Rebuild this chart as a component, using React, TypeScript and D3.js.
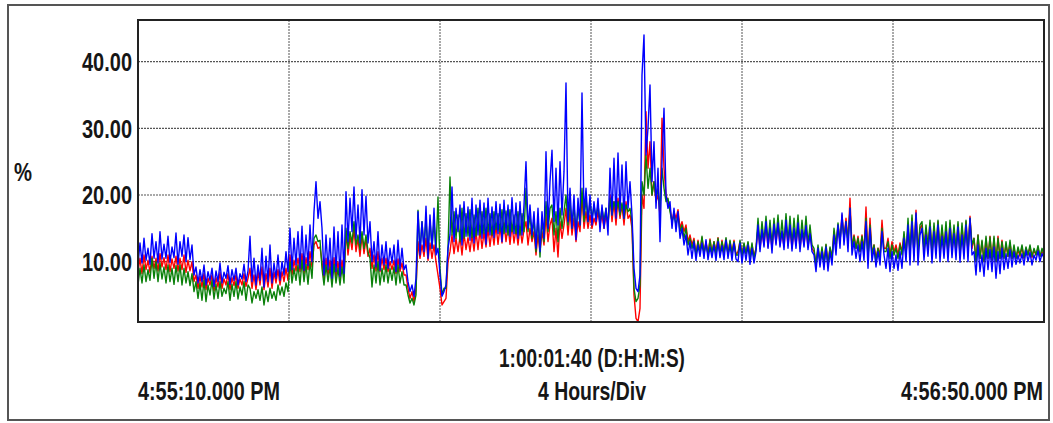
import React, { useLayoutEffect, useRef, useState } from "react";
import * as d3 from "d3";

// y axis ticks and texts
const yTicks = [10, 20, 30, 40];
const yTickLabels = ["10.00", "20.00", "30.00", "40.00"];
const hourDivs = [0, 4, 8, 12, 16, 20, 24];
const startLabel = "4:55:10.000 PM";
const endLabel = "4:56:50.000 PM";
const spanLabel = "1:00:01:40 (D:H:M:S)";
const divLabel = "4 Hours/Div";

const blueTrace = [
  9.5, 12.8, 9.8, 13.5, 10.2, 12.0, 9.6, 14.2, 10.5, 13.0, 9.8, 14.5, 10.4, 12.6, 10.5, 13.8, 9.9, 12.2, 10.6, 14.3, 9.6, 13.0, 10.8, 14.0, 10.0, 13.6, 10.3, 12.5,
  8.0, 9.2, 6.8, 8.8, 7.0, 9.5, 6.5, 8.5, 7.2, 9.0, 6.3, 8.6, 7.0, 9.8, 6.8, 8.4, 7.5, 9.4, 6.6, 8.8, 7.2, 9.0, 6.5, 8.2, 7.4, 9.6, 7.0, 8.6,
  13.8, 7.0, 10.5, 6.5, 9.5, 7.2, 12.0, 6.2, 10.8, 7.0, 12.5, 6.8, 9.8, 7.5, 11.0, 7.2, 10.0, 8.0, 11.5, 8.5,
  15.0, 8.8, 13.5, 9.5, 14.5, 9.0, 15.3, 8.7, 14.0, 9.4, 15.5, 10.0,
  17.5, 22.0, 16.5, 19.0,
  15.0, 8.0, 14.0, 8.8, 13.5, 7.5, 15.2, 8.5, 14.5, 7.8, 15.5, 8.2,
  20.5, 13.0, 19.5, 14.5, 21.2, 13.5, 18.5, 12.8, 20.8, 14.0, 19.8, 12.8,
  16.0, 10.0, 13.0, 9.2, 14.5, 8.7, 12.5, 9.5,
  13.0, 9.0, 12.0, 9.8, 12.5, 8.5, 13.2, 9.0, 12.0, 8.8,
  9.5, 7.0, 5.5, 6.5, 4.8, 7.5,
  17.5, 11.0, 16.0, 11.5, 18.3, 10.5, 17.0, 12.0, 18.0, 11.0,
  12.0, 8.0, 4.8, 5.5,
  6.5, 12.0, 14.0, 21.2, 13.0, 18.0, 14.5, 18.5, 12.5, 19.0, 13.8, 18.2, 13.2, 19.5, 12.8, 18.5, 14.0, 19.2, 13.5, 18.8,
  12.6, 19.5, 14.0, 18.2, 13.6, 19.0, 14.2, 18.6, 13.0, 19.2, 14.4, 18.5, 13.8, 19.6, 14.2, 18.8, 13.5, 19.0, 14.0, 18.5,
  25.0, 15.0,
  18.5, 14.0, 17.5, 12.0, 18.0, 11.5, 17.5, 13.5,
  26.5, 15.0, 22.0, 26.7, 16.0, 24.0, 15.5, 25.0, 17.0, 23.5,
  36.8, 16.0,
  21.0, 15.0, 20.0, 13.3, 19.5, 15.5,
  35.3, 17.0,
  21.0, 16.0, 20.0, 15.5, 19.0, 16.0,
  19.5, 14.5, 18.5, 15.0, 18.0, 14.0,
  24.0, 17.0, 25.5, 16.5, 26.3, 17.5, 24.5, 16.5, 25.0, 18.0,
  22.0, 17.0, 9.0, 6.0, 5.5, 8.0,
  38.0, 44.0, 26.0, 30.0, 36.5, 22.0, 28.0, 18.0, 24.0, 13.0, 25.0, 33.0, 20.0, 18.0,
  19.0, 15.0, 18.0, 14.5, 17.5, 13.5, 15.0, 12.5, 14.0, 11.0, 13.0, 10.5,
  13.0, 10.2, 12.5, 10.8, 12.8, 10.5, 13.3, 10.3, 12.2, 10.6, 12.5, 10.2, 13.0, 10.6, 12.4, 10.3, 13.2, 10.5, 12.6, 10.2, 12.8, 10.4,
  10.0, 12.8, 9.8, 12.2, 10.2, 12.5, 9.6, 12.0, 9.8, 11.5,
  15.5, 11.5, 14.8, 12.2, 16.0, 12.0, 15.0, 11.3, 15.6, 12.5, 15.8, 12.2, 14.6, 11.8, 16.2, 12.0, 15.5, 11.6, 15.0, 12.0, 15.8, 11.5, 14.8, 12.2, 15.4, 11.8, 14.2, 11.5,
  11.0, 8.5, 12.0, 9.2, 11.5, 8.8, 12.2, 8.6, 11.5, 9.5,
  14.0, 11.0, 15.5, 12.0, 17.3, 12.5, 16.0, 11.5,
  18.0, 11.0, 13.0, 10.5, 12.5, 10.0, 13.0, 10.2,
  16.0, 9.0, 15.0, 10.0,
  12.0, 9.2, 11.5, 9.5, 14.5, 11.0,
  9.0, 12.0, 8.5, 11.5, 9.0, 11.0, 8.7, 11.5,
  9.0, 13.5, 10.0, 15.5, 9.5, 16.0, 10.0, 17.3, 9.5, 14.0,
  15.0, 10.2, 14.0, 10.8, 15.2, 9.8, 14.5, 10.5, 15.5, 10.0, 13.8, 10.5, 14.5, 10.0, 15.0, 10.6, 14.2, 10.3, 15.2, 9.9, 14.0, 10.4, 15.5, 10.0, 16.5, 11.0,
  11.5, 8.0, 12.5, 8.5, 11.0, 7.8, 12.0, 8.8, 11.8, 8.5, 12.2, 7.5, 11.5, 8.2, 12.0, 8.8, 11.2, 9.0, 11.8, 9.2,
  11.5, 9.6, 11.0, 9.8, 11.2, 9.5, 11.7, 10.0, 11.4, 9.5, 11.0, 10.2, 11.6, 10.0, 11.2, 10.5,
];

const redTrace = [
  8.5, 10.5, 8.2, 11.0, 8.8, 10.2, 8.4, 10.8, 9.0, 10.5, 8.6, 11.2, 9.2, 10.6, 8.8, 11.0, 8.5, 10.4, 9.0, 10.8, 8.6, 10.5, 8.8, 11.0, 8.4, 10.2, 8.6, 10.0,
  7.0, 8.0, 6.0, 7.8, 6.2, 8.2, 5.8, 7.5, 6.5, 8.0, 5.6, 7.6, 6.2, 8.4, 6.0, 7.4, 6.5, 8.2, 5.8, 7.6, 6.4, 8.0, 6.0, 7.4, 6.5, 8.2, 6.3, 7.5,
  9.0, 6.0, 8.0, 5.8, 8.5, 6.5, 9.2, 5.8, 8.2, 6.2, 9.0, 6.0, 8.4, 6.8, 8.8, 6.5, 8.5, 7.0, 9.0, 7.2,
  11.0, 8.0, 10.2, 8.6, 10.5, 8.5, 11.2, 8.2, 10.6, 8.8, 11.5, 9.2,
  12.5, 13.0, 12.0, 12.2,
  10.0, 7.5, 10.5, 8.0, 10.2, 7.2, 10.6, 7.8, 10.0, 7.5, 10.2, 7.8,
  14.5, 11.0, 13.8, 11.8, 15.0, 11.5, 13.5, 10.8, 14.0, 11.2, 13.5, 10.8,
  12.0, 9.0, 11.0, 8.6, 11.5, 8.5, 10.5, 8.8,
  10.5, 8.5, 10.0, 8.8, 10.2, 8.2, 10.4, 8.5, 9.8, 8.0,
  8.0, 6.0, 4.5, 5.5, 4.0, 6.0,
  13.0, 10.5, 12.5, 10.8, 13.5, 10.2, 12.8, 10.5, 12.5, 10.0,
  8.0, 6.0, 3.5, 4.0,
  4.5, 10.0, 11.5, 14.0, 11.2, 13.5, 11.5, 13.8, 11.0, 14.2, 11.8, 13.6, 11.5, 14.0, 11.6, 14.5, 11.8, 14.8, 12.0, 14.4,
  12.2, 15.0, 12.3, 14.8, 12.5, 15.5, 12.6, 15.2, 12.8, 15.8, 13.0, 15.4, 12.6, 15.5, 12.8, 15.0, 12.5, 15.2, 12.8, 14.8,
  16.0, 12.5,
  15.0, 13.0, 14.5, 11.0, 14.0, 11.5, 14.5, 12.5,
  17.0, 13.0, 15.5, 16.5, 11.5, 15.0, 10.7, 16.0, 13.5, 15.5,
  18.0, 14.0,
  17.5, 14.0, 16.5, 13.0, 16.0, 14.5,
  20.0, 15.0,
  17.5, 15.0, 17.0, 15.0, 16.5, 15.5,
  17.5, 15.5, 17.0, 15.0, 17.0, 15.5,
  20.0, 16.0, 19.0, 15.5, 19.5, 16.5, 18.5, 15.5, 19.0, 16.5,
  17.0, 15.0, 5.0, 1.5, 1.0, 3.0,
  20.0, 18.0, 32.5, 24.0, 28.0, 20.0, 22.0, 19.0, 20.0, 17.0, 31.5, 24.0, 20.0, 19.0,
  18.0, 16.0, 17.5, 16.5, 17.8, 15.0, 16.0, 14.5, 15.5, 13.0, 14.0, 12.5,
  13.5, 11.0, 13.2, 11.5, 13.6, 11.2, 13.0, 11.0, 13.4, 11.2, 13.0, 11.5, 13.6, 11.0, 13.2, 11.2, 13.4, 11.0, 13.0, 11.3, 13.2, 11.0,
  11.5, 13.0, 11.0, 12.6, 11.2, 12.8, 10.8, 12.5, 10.8, 12.0,
  15.0, 12.0, 14.5, 12.5, 15.5, 12.2, 14.8, 12.0, 15.2, 12.8, 15.6, 12.5, 14.5, 12.2, 15.8, 12.4, 15.2, 12.0, 14.8, 12.5, 15.5, 12.0, 14.6, 12.5, 15.2, 12.2, 14.5, 12.0,
  11.5, 9.5, 12.0, 10.0, 11.8, 9.8, 12.5, 9.6, 12.0, 10.5,
  14.5, 12.0, 15.5, 13.0, 17.0, 13.5, 16.5, 13.0,
  19.5, 12.0, 14.0, 12.0, 13.8, 11.5, 14.0, 11.5,
  18.2, 10.5, 16.5, 11.0,
  12.5, 10.5, 12.0, 11.0, 16.2, 12.0,
  12.0, 13.5, 11.0, 13.0, 11.5, 12.5, 11.0, 12.8,
  11.5, 14.0, 11.0, 15.0, 11.5, 16.5, 11.0, 17.7, 11.5, 15.0,
  15.5, 11.5, 15.0, 11.8, 15.8, 11.0, 15.2, 11.5, 16.0, 11.2, 15.0, 11.5, 15.2, 11.2, 15.8, 11.5, 15.0, 11.3, 15.6, 11.0, 15.2, 11.5, 16.0, 11.2, 16.8, 12.0,
  13.5, 10.0, 14.0, 10.5, 13.0, 10.0, 13.5, 10.5, 13.8, 10.2, 13.5, 10.0, 13.8, 10.5, 13.2, 10.6, 12.5, 10.8, 12.8, 10.5,
  12.0, 10.5, 11.8, 10.8, 12.2, 10.5, 12.0, 11.0, 12.2, 10.6, 11.8, 11.0, 12.0, 10.8, 11.5, 11.0,
];

const greenTrace = [
  6.5, 9.0, 6.8, 9.5, 7.0, 8.8, 7.2, 10.5, 7.5, 10.0, 7.0, 9.8, 7.4, 9.2, 6.8, 9.5, 7.0, 9.0, 6.6, 9.4, 7.0, 9.5, 6.5, 9.0, 6.8, 8.5, 6.4, 8.2,
  5.5, 7.0, 4.5, 6.8, 4.2, 7.2, 4.0, 6.5, 5.0, 7.2, 4.4, 6.6, 4.5, 7.0, 4.8, 6.0, 5.2, 7.0, 4.2, 6.6, 4.8, 7.0, 4.4, 6.2, 5.0, 7.0, 4.2, 6.5,
  6.0, 3.8, 5.5, 4.5, 5.8, 4.2, 6.2, 3.5, 5.6, 4.0, 6.0, 4.5, 5.5, 4.2, 6.5, 5.0, 6.2, 4.8, 6.8, 5.5,
  10.0, 6.8, 9.0, 7.2, 9.5, 6.5, 10.2, 7.0, 9.6, 6.6, 10.0, 7.5,
  13.5, 14.0, 13.0, 13.2,
  9.0, 6.5, 9.5, 7.0, 9.2, 6.2, 9.6, 6.8, 9.0, 6.5, 9.2, 6.8,
  15.0, 12.0, 14.5, 12.8, 16.0, 12.5, 14.0, 11.8, 14.5, 12.0, 14.0, 11.5,
  10.5, 6.2, 9.5, 6.8, 10.0, 6.5, 9.0, 7.0,
  9.5, 6.8, 9.0, 7.2, 9.2, 6.5, 9.5, 6.8, 8.5, 6.5,
  6.5, 5.0, 3.8, 4.5, 3.5, 5.0,
  17.7, 11.5, 16.0, 12.0, 16.5, 11.0, 16.2, 12.0, 16.0, 11.5,
  19.7, 9.0, 5.0, 6.0,
  6.0, 12.0, 22.7, 14.0, 17.5, 13.5, 17.0, 13.0, 18.0, 13.5, 17.2, 13.8, 17.8, 13.6, 17.0, 13.8, 18.0, 14.0, 17.5, 14.2,
  18.0, 14.5, 17.2, 14.0, 17.5, 14.8, 17.2, 14.5, 17.8, 14.2, 17.6, 14.0, 17.8, 14.5, 17.0, 14.2, 17.5, 14.0, 17.2, 14.5,
  21.0, 14.5,
  17.0, 13.5, 16.5, 11.5, 16.8, 10.7, 16.5, 13.0,
  19.0, 14.5, 18.0, 18.5, 14.0, 17.5, 13.0, 18.0, 15.0, 17.5,
  20.0, 15.5,
  19.0, 15.0, 18.5, 14.5, 18.0, 15.5,
  21.0, 16.0,
  19.5, 16.0, 19.0, 16.5, 18.5, 16.5,
  18.5, 16.0, 18.0, 16.2, 18.0, 15.5,
  19.5, 17.0, 19.0, 17.5, 19.0, 17.0, 18.8, 16.5, 18.5, 17.5,
  18.0, 16.0, 6.0, 4.0, 4.5, 6.5,
  22.0, 20.0, 26.0, 21.0, 24.0, 20.0, 22.0, 19.5, 21.0, 18.0, 24.0, 21.0, 19.0, 19.5,
  17.5, 16.0, 17.0, 15.5, 17.0, 14.5, 15.5, 13.5, 15.0, 12.5, 13.5, 12.0,
  13.2, 11.0, 13.0, 11.4, 13.8, 11.2, 12.8, 11.0, 13.2, 11.3, 13.0, 11.0, 13.5, 11.2, 13.0, 11.4, 13.6, 11.0, 13.2, 11.2, 13.0, 11.0,
  11.0, 13.2, 10.8, 12.8, 11.2, 13.0, 10.6, 12.8, 10.5, 12.0,
  16.5, 12.5, 16.0, 13.0, 16.8, 12.8, 16.2, 12.5, 16.5, 13.2, 17.0, 13.0, 16.2, 12.8, 17.2, 13.0, 16.8, 12.6, 16.5, 13.0, 17.0, 12.8, 16.2, 13.0, 16.8, 12.6, 15.5, 12.5,
  12.0, 9.5, 12.5, 10.0, 12.2, 9.8, 12.6, 9.6, 12.2, 10.5,
  15.0, 12.5, 15.8, 13.0, 16.5, 13.5, 16.0, 13.0,
  18.0, 12.0, 13.8, 12.0, 13.5, 11.5, 13.8, 11.5,
  16.5, 10.5, 15.5, 11.0,
  12.5, 10.0, 12.0, 10.5, 15.0, 11.5,
  11.5, 13.0, 10.5, 12.5, 11.0, 12.0, 10.5, 12.5,
  11.0, 14.5, 11.0, 16.5, 11.5, 17.0, 11.0, 17.0, 11.5, 15.5,
  16.0, 12.0, 15.5, 12.2, 16.2, 11.5, 15.8, 12.0, 16.2, 11.8, 15.5, 12.0, 16.0, 11.5, 16.2, 12.0, 15.5, 11.8, 16.0, 11.5, 15.8, 12.0, 16.2, 11.5, 16.5, 12.5,
  13.5, 10.0, 14.0, 10.5, 13.2, 10.0, 13.8, 10.5, 13.7, 10.2, 13.8, 10.0, 13.5, 10.5, 13.0, 10.5, 13.0, 10.8, 13.2, 10.5,
  12.5, 10.5, 12.2, 11.0, 12.5, 10.6, 12.2, 11.0, 12.5, 10.8, 12.0, 11.0, 12.4, 10.8, 12.0, 11.0,
];

const series = [
  { name: "red", values: redTrace, color: "#ff0000" },
  { name: "green", values: greenTrace, color: "#0a800a" },
  { name: "blue", values: blueTrace, color: "#0000ff" },
];

const W = 1053;
const H = 423;
const plot = { left: 138, right: 1044, top: 20, bottom: 322 };
const font = "'Liberation Sans Narrow', 'Liberation Sans', Arial, sans-serif";

// narrow label: measured, then squeezed horizontally to the given width
function FitText({ x, y, width, size, anchor = "start", children }: any) {
  const ref = useRef<SVGTextElement>(null);
  const [sx, setSx] = useState(0.76);
  useLayoutEffect(() => {
    if (ref.current) {
      const w = ref.current.getComputedTextLength();
      if (w > 0) setSx(width / w);
    }
  }, [width, children]);
  const left = anchor === "end" ? x - width : x;
  return (
    <text ref={ref} transform={`translate(${left},${y}) scale(${sx},1)`} fontSize={size}>
      {children}
    </text>
  );
}

export default function App() {
  const hours = d3.scaleLinear().domain([0, 24]).range([plot.left, plot.right]);
  const y = d3.scaleLinear().domain([0.945, 46.25]).range([plot.bottom, plot.top]);

  const paths = series.map((s) => {
    const x = d3.scaleLinear().domain([0, s.values.length - 1]).range([plot.left, plot.right]);
    const line = d3
      .line<number>()
      .x((_, i) => x(i))
      .y((d) => y(d));
    return { ...s, d: line(s.values) || "" };
  });

  return (
    <svg
      width={W}
      height={H}
      style={{ position: "absolute", left: 0, top: 0, background: "#fff" }}
      fontFamily={font}
      fontWeight="bold"
      fill="#161616"
    >
      <defs>
        <clipPath id="plotClip">
          <rect x={plot.left} y={plot.top} width={plot.right - plot.left} height={plot.bottom - plot.top} />
        </clipPath>
      </defs>

      {/* outer frame */}
      <rect x={8} y={5} width={1041} height={415} fill="none" stroke="#555" strokeWidth={2} />

      {/* grid */}
      {hourDivs.slice(1, -1).map((h) => (
        <line
          key={"v" + h}
          x1={hours(h)}
          x2={hours(h)}
          y1={plot.top}
          y2={plot.bottom}
          stroke="#555"
          strokeWidth={1}
          strokeDasharray="2,1"
        />
      ))}
      {yTicks.map((t) => (
        <line
          key={"h" + t}
          x1={plot.left}
          x2={plot.right}
          y1={y(t)}
          y2={y(t)}
          stroke="#555"
          strokeWidth={1.2}
          strokeDasharray="2,1"
        />
      ))}

      {/* traces */}
      <g clipPath="url(#plotClip)">
        {paths.map((p) => (
          <path key={p.name} d={p.d} fill="none" stroke={p.color} strokeWidth={1.4} strokeLinejoin="round" />
        ))}
      </g>

      {/* plot frame */}
      <rect
        x={plot.left}
        y={plot.top}
        width={plot.right - plot.left}
        height={plot.bottom - plot.top}
        fill="none"
        stroke="#222"
        strokeWidth={2}
      />

      {/* y tick labels */}
      {yTicks.map((t, i) => (
        <FitText key={"yl" + t} x={82} y={y(t) + 9.5} width={50} size={25}>
          {yTickLabels[i]}
        </FitText>
      ))}
      <FitText x={14} y={181} width={18} size={25}>
        %
      </FitText>

      {/* x labels */}
      <FitText x={499} y={367} width={186} size={26}>
        {spanLabel}
      </FitText>
      <FitText x={538} y={400} width={108} size={26}>
        {divLabel}
      </FitText>
      <FitText x={138} y={400} width={142} size={26}>
        {startLabel}
      </FitText>
      <FitText x={1043} y={400} width={142} size={26} anchor="end">
        {endLabel}
      </FitText>
    </svg>
  );
}
